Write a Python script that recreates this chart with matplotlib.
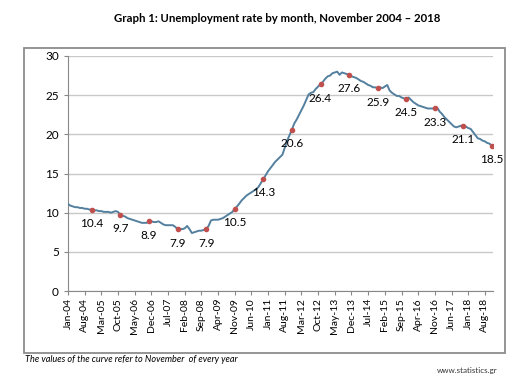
import matplotlib.pyplot as plt
from matplotlib.patches import Rectangle

plt.rcParams['font.family'] = ['Lato', 'DejaVu Sans']

# monthly unemployment rate, Jan 2004 - Nov 2018
y2004 = [11.1, 10.9, 10.8, 10.7, 10.7, 10.6, 10.6, 10.5, 10.5, 10.4, 10.4, 10.3]
y2005 = [10.3, 10.2, 10.2, 10.1, 10.1, 10.1, 10.0, 10.1, 10.2, 10.1, 9.7, 9.6]
y2006 = [9.5, 9.3, 9.2, 9.1, 9.0, 8.9, 8.8, 8.7, 8.7, 8.7, 8.9, 8.9]
y2007 = [8.8, 8.8, 8.9, 8.7, 8.5, 8.4, 8.4, 8.4, 8.4, 8.2, 7.9, 7.9]
y2008 = [7.9, 8.0, 8.3, 7.9, 7.4, 7.5, 7.6, 7.7, 7.7, 7.8, 7.9, 8.3]
y2009 = [9.0, 9.1, 9.1, 9.1, 9.2, 9.3, 9.5, 9.7, 9.9, 10.1, 10.5, 10.8]
y2010 = [11.2, 11.6, 11.9, 12.2, 12.4, 12.6, 12.8, 13.0, 13.3, 13.8, 14.3, 14.8]
y2011 = [15.3, 15.7, 16.1, 16.5, 16.8, 17.1, 17.4, 18.3, 19.2, 19.9, 20.6, 21.4]
y2012 = [21.9, 22.5, 23.1, 23.7, 24.4, 25.1, 25.3, 25.4, 25.8, 26.1, 26.4, 26.7]
y2013 = [27.1, 27.4, 27.5, 27.8, 27.9, 28.0, 27.6, 27.9, 27.8, 27.7, 27.6, 27.4]
y2014 = [27.3, 27.2, 27.0, 26.8, 26.7, 26.5, 26.3, 26.2, 26.0, 26.0, 25.9, 26.0]
y2015 = [25.9, 26.1, 26.3, 25.6, 25.3, 25.1, 24.9, 24.9, 24.7, 24.6, 24.5, 24.7]
y2016 = [24.4, 24.1, 23.9, 23.7, 23.6, 23.5, 23.4, 23.3, 23.3, 23.3, 23.3, 23.4]
y2017 = [22.9, 22.6, 22.2, 21.9, 21.6, 21.3, 21.0, 20.9, 21.0, 21.1, 21.1, 21.0]
y2018 = [20.8, 20.7, 20.3, 19.9, 19.5, 19.4, 19.2, 19.1, 18.9, 18.8, 18.5]

rate = (y2004 + y2005 + y2006 + y2007 + y2008 + y2009 + y2010 + y2011
        + y2012 + y2013 + y2014 + y2015 + y2016 + y2017 + y2018)

months = ['Jan', 'Feb', 'Mar', 'Apr', 'May', 'Jun',
          'Jul', 'Aug', 'Sep', 'Oct', 'Nov', 'Dec']
labels = ['%s-%02d' % (months[i % 12], 4 + i // 12) for i in range(len(rate))]

# november markers
nov_idx = [i for i in range(len(rate)) if i % 12 == 10]

fig = plt.figure(figsize=(5.3, 3.81), dpi=100)
fig.patches.append(Rectangle((24 / 530, 1 - 353 / 381), 481 / 530, 305 / 381,
                             transform=fig.transFigure, fill=False,
                             edgecolor='#8c8c8c', linewidth=1.3))

ax = fig.add_axes([68 / 530, 1 - 291 / 381, 425 / 530, 235 / 381])
x = list(range(len(rate)))
ax.plot(x, rate, color='#54809f', linewidth=1.4, zorder=3)
ax.plot(nov_idx, [rate[i] for i in nov_idx], 'o', color='#c0504d',
        markersize=3, zorder=4)
for i in nov_idx:
    ax.annotate('%.1f' % rate[i], (i, rate[i]), xytext=(0, -10),
                textcoords='offset points', ha='center', va='center',
                fontsize=8.5)

ax.set_ylim(0, 30)
ax.set_yticks(range(0, 31, 5))
ax.set_xlim(0, 178.4)
tick_pos = list(range(0, len(rate), 7))
ax.set_xticks(tick_pos)
ax.set_xticklabels([labels[i] for i in tick_pos], rotation=90, fontsize=7.5)
ax.tick_params(axis='y', labelsize=8.5, length=3, color='#888888')
ax.tick_params(axis='x', length=3, color='#888888', pad=2)
ax.grid(axis='y', color='#c8c8c8', linewidth=1)
ax.set_axisbelow(True)
for s in ['top', 'right']:
    ax.spines[s].set_visible(False)
for s in ['left', 'bottom']:
    ax.spines[s].set_color('#888888')

fig.text(277 / 530, 1 - 18 / 381,
         'Graph 1: Unemployment rate by month, November 2004 \u2013 2018',
         ha='center', va='center', fontsize=8.2, fontweight='bold')
fig.text(25 / 530, 1 - 359 / 381,
         'The values of the curve refer to November  of every year',
         ha='left', va='center', fontsize=6.6, style='italic')
fig.text(497 / 530, 1 - 371 / 381, 'www.statistics.gr',
         ha='right', va='center', fontsize=5.8, color='#333333')

fig.savefig('out.png', dpi=100)
